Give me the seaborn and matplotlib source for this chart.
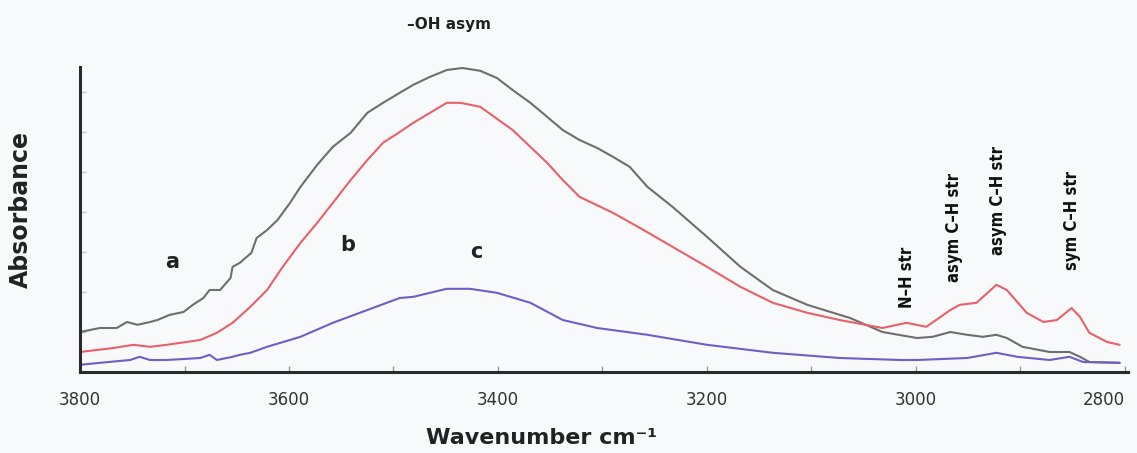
import numpy as np
import pandas as pd
import matplotlib
matplotlib.use('Agg')
import matplotlib.pyplot as plt
from matplotlib.ticker import MultipleLocator
import seaborn as sns

# %% spectra (wavenumber in cm-1, absorbance a.u.)
wn_a = [3800, 3781, 3765, 3755, 3745, 3733, 3726, 3714, 3701, 3692, 3682, 3676, 3666,
        3656, 3654, 3647, 3636, 3631, 3621, 3611, 3599, 3589, 3573, 3558, 3541, 3525,
        3510, 3494, 3481, 3465, 3449, 3434, 3417, 3401, 3386, 3369, 3353, 3338, 3322,
        3305, 3290, 3274, 3257, 3233, 3200, 3168, 3137, 3104, 3073, 3063, 3032, 2999,
        2984, 2967, 2951, 2936, 2923, 2913, 2898, 2872, 2853, 2843, 2834, 2805]
abs_a = [0.100, 0.110, 0.110, 0.125, 0.118, 0.125, 0.130, 0.143, 0.150, 0.168, 0.185,
         0.205, 0.205, 0.235, 0.263, 0.273, 0.298, 0.335, 0.355, 0.380, 0.423, 0.463,
         0.518, 0.563, 0.598, 0.648, 0.673, 0.698, 0.718, 0.738, 0.755, 0.760, 0.753,
         0.735, 0.705, 0.673, 0.638, 0.605, 0.580, 0.560, 0.538, 0.513, 0.463, 0.413,
         0.338, 0.263, 0.205, 0.168, 0.143, 0.135, 0.100, 0.085, 0.088, 0.100, 0.093,
         0.088, 0.093, 0.085, 0.063, 0.050, 0.050, 0.038, 0.025, 0.023]

wn_b = [3800, 3768, 3749, 3733, 3717, 3685, 3669, 3654, 3637, 3621, 3606, 3589, 3573,
        3558, 3541, 3525, 3510, 3494, 3481, 3449, 3436, 3417, 3386, 3353, 3338, 3322,
        3290, 3264, 3233, 3200, 3168, 3137, 3104, 3073, 3032, 3009, 2990, 2967, 2958,
        2942, 2923, 2913, 2894, 2878, 2865, 2851, 2843, 2834, 2817, 2805]
abs_b = [0.050, 0.060, 0.068, 0.063, 0.068, 0.080, 0.098, 0.123, 0.163, 0.205, 0.263,
         0.323, 0.373, 0.423, 0.480, 0.530, 0.573, 0.600, 0.623, 0.673, 0.673, 0.663,
         0.605, 0.523, 0.480, 0.438, 0.398, 0.360, 0.313, 0.263, 0.213, 0.173, 0.148,
         0.130, 0.110, 0.123, 0.113, 0.155, 0.168, 0.173, 0.218, 0.205, 0.148, 0.125,
         0.130, 0.160, 0.138, 0.098, 0.075, 0.068]

wn_c = [3800, 3781, 3752, 3743, 3733, 3717, 3685, 3676, 3669, 3654, 3647, 3637, 3621,
        3589, 3558, 3525, 3494, 3481, 3449, 3427, 3401, 3369, 3338, 3305, 3257, 3200,
        3137, 3073, 3015, 2999, 2951, 2923, 2903, 2872, 2853, 2840, 2805]
abs_c = [0.018, 0.023, 0.030, 0.038, 0.030, 0.030, 0.035, 0.043, 0.030, 0.038, 0.043,
         0.048, 0.063, 0.088, 0.123, 0.155, 0.185, 0.188, 0.208, 0.208, 0.198, 0.173,
         0.130, 0.110, 0.093, 0.068, 0.048, 0.035, 0.030, 0.030, 0.035, 0.048, 0.038,
         0.030, 0.038, 0.025, 0.023]

samples = ['a', 'b', 'c']
colors = ['#6e6e6e', '#e8606a', '#6f5fc4']

# peak assignments
band_labels = ['N\u2013H str', 'asym C\u2013H str', 'asym C\u2013H str', 'sym C\u2013H str']
band_wn = [3009, 2964, 2921, 2851]
band_y = [0.160, 0.225, 0.292, 0.255]

# curve letters
letter_wn = [3712, 3544, 3421]
letter_y = [0.275, 0.318, 0.300]

# %% long dataframe
df = pd.concat([
    pd.DataFrame({'wavenumber': wn_a, 'absorbance': abs_a, 'sample': 'a'}),
    pd.DataFrame({'wavenumber': wn_b, 'absorbance': abs_b, 'sample': 'b'}),
    pd.DataFrame({'wavenumber': wn_c, 'absorbance': abs_c, 'sample': 'c'}),
], ignore_index=True)

# %% plot
sns.set_style('ticks')
plt.rcParams['font.family'] = ['DejaVu Sans']
bg = '#f8f9fa'

fig = plt.figure(figsize=(11.37, 4.53), dpi=100, facecolor=bg)
ax = fig.add_axes([0.0704, 0.1788, 0.9217, 0.6733], facecolor=bg)

sns.lineplot(data=df, x='wavenumber', y='absorbance', hue='sample',
             palette=dict(zip(samples, colors)), estimator=None, sort=True,
             linewidth=1.5, legend=False, ax=ax)

ax.set_xlim(3800, 2797)
ax.set_ylim(0, 0.7625)

sns.despine(ax=ax)
for side in ['left', 'bottom']:
    ax.spines[side].set_color('#2b2b2b')
    ax.spines[side].set_linewidth(2.2)

ax.set_xticks([3800, 3600, 3400, 3200, 3000, 2800])
ax.xaxis.set_minor_locator(MultipleLocator(100))
ax.set_yticks(np.arange(0.1, 0.75, 0.1))
ax.set_yticklabels([])
ax.tick_params(axis='x', which='both', direction='in', length=4, width=1,
               color='#9a9a9a', labelsize=12, labelcolor='#333333', pad=14)
ax.tick_params(axis='y', which='both', direction='in', length=4, width=1,
               color='#c8c8c8')
# last label kept inside the figure edge
ax.get_xticklabels()[-1].set_ha('right')

ax.set_xlabel('Wavenumber cm\u207b\u00b9', fontsize=16, fontweight='bold', color='#222222')
ax.xaxis.set_label_coords(0.44, -0.184)
ax.set_ylabel('Absorbance', fontsize=17, fontweight='bold', color='#222222')
ax.yaxis.set_label_coords(-0.045, 0.534)

ax.text(3447, 0.8675, '\u2013OH asym', fontsize=11, fontweight='bold',
        ha='center', va='center', color='#222222')

for s, x, y in zip(samples, letter_wn, letter_y):
    ax.text(x, y, s, fontsize=15, fontweight='bold', ha='center', va='center',
            color='#222222')

for lab, x, y in zip(band_labels, band_wn, band_y):
    ax.text(x, y, lab, fontsize=12, fontweight='bold', rotation=90,
            fontstretch='condensed', ha='center', va='bottom', color='#111111')

plt.savefig('out.png', dpi=100, facecolor=bg)
